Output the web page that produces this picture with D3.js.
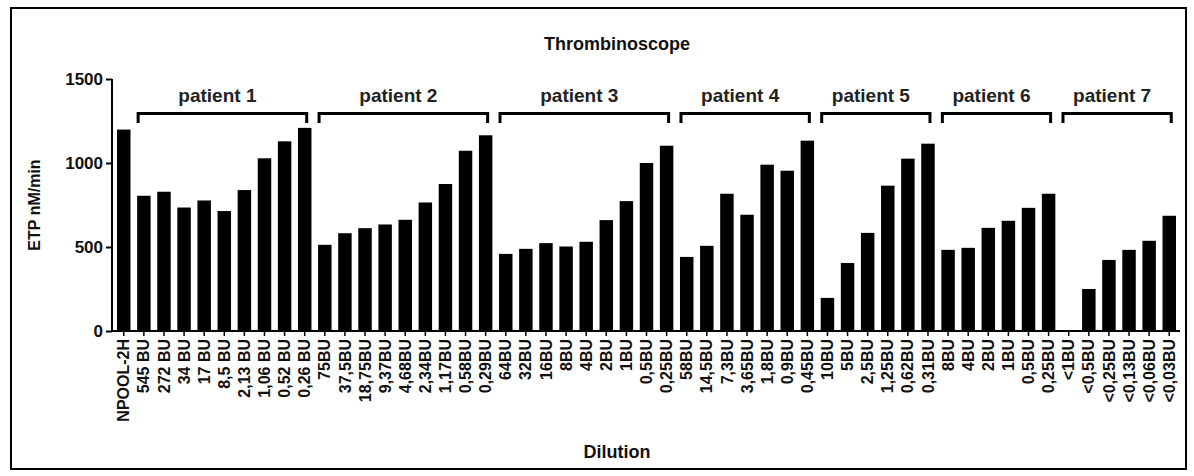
<!DOCTYPE html>
<html><head><meta charset="utf-8">
<script src="https://cdn.jsdelivr.net/npm/d3@7"></script>
<style>body{margin:0;background:#fff}svg{display:block}text{font-family:"Liberation Sans",Arial,sans-serif}</style>
</head><body><svg id="c" width="1194" height="476"></svg>
<script>
const categories = ["NPOOL-2H",
 "545 BU","272 BU","34 BU","17 BU","8,5 BU","2,13 BU","1,06 BU","0,52 BU","0,26 BU",
 "75BU","37,5BU","18,75BU","9,37BU","4,68BU","2,34BU","1,17BU","0,58BU","0,29BU",
 "64BU","32BU","16BU","8BU","4BU","2BU","1BU","0,5BU","0,25BU",
 "58BU","14,5BU","7,3BU","3,65BU","1,8BU","0,9BU","0,45BU",
 "10BU","5BU","2,5BU","1,25BU","0,62BU","0,31BU",
 "8BU ","4BU ","2BU ","1BU ","0,5BU ","0,25BU ",
 "<1BU","<0,5BU","<0,25BU","<0,13BU","<0,06BU","<0,03BU"];
const values = [1199,
 805,829,735,777,714,839,1028,1129,1209,
 513,582,612,634,662,765,875,1073,1165,
 459,489,523,503,531,660,773,1000,1103,
 441,507,817,692,990,954,1133,
 197,405,584,865,1026,1115,
 483,495,614,656,733,817,
 0,250,423,483,537,686];
const groupNames = ["patient 1","patient 2","patient 3","patient 4","patient 5","patient 6","patient 7"];
const groupStart = [1,10,19,28,35,41,47];
const groupEnd   = [9,18,27,34,40,46,52];
const yTicks = [0,500,1000,1500];

const svg = d3.select("#c");
svg.append("rect").attr("x",11).attr("y",8).attr("width",1175).attr("height",461)
  .attr("fill","none").attr("stroke","#000").attr("stroke-width",2);

const x = d3.scaleBand().domain(categories).range([113,1180]).paddingInner(0.33).paddingOuter(0.2);
const y = d3.scaleLinear().domain([0,1500]).range([331,79]);

svg.append("g").selectAll("rect").data(values).join("rect")
  .attr("x",(d,i)=>x(categories[i])).attr("width",x.bandwidth())
  .attr("y",d=>y(d)).attr("height",d=>y(0)-y(d)).attr("fill","#000");

const yAxis = svg.append("g").attr("transform","translate(112,0)")
  .call(d3.axisLeft(y).tickValues(yTicks).tickSize(6).tickPadding(3).tickFormat(d3.format("d")));
yAxis.select(".domain").attr("stroke-width",2).attr("d","M0,"+y(1500)+"V"+(y(0)+1));
yAxis.selectAll(".tick line").attr("stroke-width",2);
yAxis.selectAll(".tick text").attr("font-size",17).attr("font-weight","bold").attr("fill","#111")
  .style("font-family","'Liberation Sans',Arial,sans-serif");

const xAxis = svg.append("g").attr("transform","translate(0,331)")
  .call(d3.axisBottom(x).tickSize(5).tickSizeOuter(0).tickPadding(3));
xAxis.select(".domain").attr("stroke-width",2).attr("d","M111,0H1180");
xAxis.selectAll(".tick line").attr("stroke-width",1.5);
xAxis.selectAll(".tick text").attr("font-size",16).attr("font-weight","bold").attr("fill","#111")
  .style("font-family","'Liberation Sans',Arial,sans-serif")
  .attr("transform","rotate(-90)").attr("text-anchor","end").attr("dy","0.35em")
  .attr("x",-8).attr("y",0);

const br = svg.append("g");
groupNames.forEach((g,i)=>{
  const a = x(categories[groupStart[i]]) + 1;
  const b = x(categories[groupEnd[i]]) + x.bandwidth()/2 + 2;
  br.append("path").attr("d",`M${a},123V113.5H${b}V123`).attr("fill","none")
    .attr("stroke","#000").attr("stroke-width",3);
  br.append("text").attr("x",(a+b)/2 - 5).attr("y",102).attr("text-anchor","middle")
    .attr("font-size",19).attr("font-weight","bold").attr("fill","#222").text(g);
});

svg.append("text").attr("x",617).attr("y",50).attr("text-anchor","middle")
  .attr("font-size",18).attr("font-weight","bold").attr("fill","#111").text("Thrombinoscope");
svg.append("text").attr("transform","translate(40,205) rotate(-90)").attr("text-anchor","middle")
  .attr("font-size",16).attr("font-weight","bold").attr("fill","#111").text("ETP nM/min");
svg.append("text").attr("x",617).attr("y",458).attr("text-anchor","middle")
  .attr("font-size",18).attr("font-weight","bold").attr("fill","#111").text("Dilution");
</script></body></html>
